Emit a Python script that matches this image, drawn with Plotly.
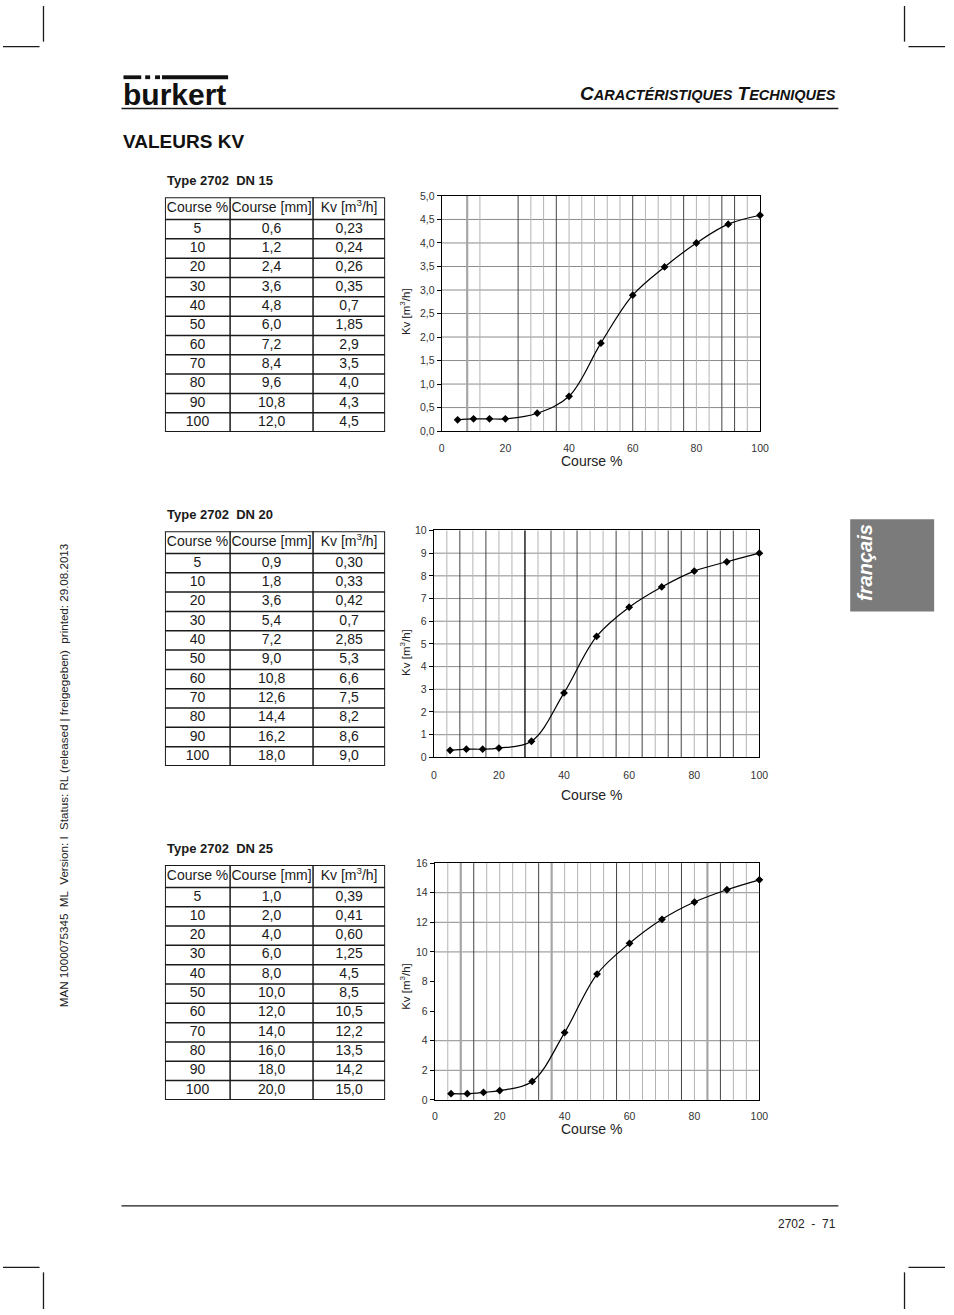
import plotly.graph_objects as go

W, H = 954, 1315
FONT = "Liberation Sans, Arial, Helvetica, sans-serif"

# ---------------- data ----------------
course_pct = [5, 10, 20, 30, 40, 50, 60, 70, 80, 90, 100]

dn15_mm = ["0,6", "1,2", "2,4", "3,6", "4,8", "6,0", "7,2", "8,4", "9,6", "10,8", "12,0"]
dn15_kv = ["0,23", "0,24", "0,26", "0,35", "0,7", "1,85", "2,9", "3,5", "4,0", "4,3", "4,5"]

dn20_mm = ["0,9", "1,8", "3,6", "5,4", "7,2", "9,0", "10,8", "12,6", "14,4", "16,2", "18,0"]
dn20_kv = ["0,30", "0,33", "0,42", "0,7", "2,85", "5,3", "6,6", "7,5", "8,2", "8,6", "9,0"]

dn25_mm = ["1,0", "2,0", "4,0", "6,0", "8,0", "10,0", "12,0", "14,0", "16,0", "18,0", "20,0"]
dn25_kv = ["0,39", "0,41", "0,60", "1,25", "4,5", "8,5", "10,5", "12,2", "13,5", "14,2", "15,0"]

table_header = ["Course\u00a0%", "Course\u00a0[mm]", "Kv\u00a0[m<sup>3</sup>/h]"]

curve_x = [5, 10, 15, 20, 30, 40, 50, 60, 70, 80, 90, 100]
dn15_curve = [0.24, 0.26, 0.26, 0.26, 0.38, 0.74, 1.87, 2.89, 3.49, 4.0, 4.4, 4.59]
dn20_curve = [0.31, 0.36, 0.36, 0.41, 0.71, 2.84, 5.33, 6.62, 7.51, 8.21, 8.62, 9.0]
dn25_curve = [0.42, 0.42, 0.51, 0.63, 1.25, 4.55, 8.5, 10.58, 12.2, 13.37, 14.2, 14.87]

titles = ["Type 2702  DN 15", "Type 2702  DN 20", "Type 2702  DN 25"]

# ---------------- layout helpers ----------------
def px(x):
    return x / W

def py(y):
    return 1 - y / H

fig = go.Figure()
shapes = []
annotations = []

# chart styling (scan-like gridlines)
charts = [
    dict(curve=dn15_curve, ymax=5, dtick=0.5, fmt=".1f",
         box=(444.3, 766.7, 191.7, 429.0), standoff=7,
         hl=[0.5, 1, 1.5, 2, 2.5, 3, 3.5, 4, 4.5],
         vlight=[12, 28, 32, 40, 44, 48, 52, 56, 64, 68, 72, 80, 84, 96],
         vdark=[24, 36, 60, 76, 88, 92], vgray=[8], vblack=[],
         ytitle_y=308, xtitle_y=459),
    dict(curve=dn20_curve, ymax=10, dtick=1, fmt="d",
         box=(436.3, 766.0, 529.3, 758.3), standoff=8,
         hl=[1, 2, 3, 4, 5, 6, 7, 8, 9],
         vlight=[4, 12, 20, 24, 32, 40, 48, 52, 60, 68, 80, 96],
         vdark=[8, 16, 36, 44, 56, 64, 72, 76, 84, 88, 92], vgray=[], vblack=[28],
         ytitle_y=652, xtitle_y=796),
    dict(curve=dn25_curve, ymax=16, dtick=2, fmt="d",
         box=(437.3, 766.0, 865.0, 1104.0), standoff=6,
         hl=[2, 4, 10, 12, 14],
         vlight=[4, 16, 20, 24, 28, 40, 44, 48, 52, 60, 64, 68, 72, 80, 92, 96],
         vdark=[12, 32, 56, 76, 88], vgray=[8, 36, 84], vblack=[],
         ytitle_y=989, xtitle_y=1133),
]

table_tops = [193, 530, 867]
table_data = [(dn15_mm, dn15_kv), (dn20_mm, dn20_kv), (dn25_mm, dn25_kv)]

layout_axes = {}
for i, c in enumerate(charts):
    n = "" if i == 0 else str(i + 1)
    xa, ya = "x" + n, "y" + n
    x0, x1, y0, y1 = c["box"]
    fig.add_trace(go.Scatter(
        x=curve_x, y=c["curve"], xaxis=xa, yaxis=ya, mode="lines+markers",
        line=dict(shape="spline", color="black", width=1.2),
        marker=dict(symbol="diamond", size=6, color="black"),
        showlegend=False, cliponaxis=False))
    layout_axes["xaxis" + n] = dict(
        domain=[px(x0), px(x1)], range=[0, 100], anchor=ya, tick0=0, dtick=20,
        showgrid=False, zeroline=False, showline=True, mirror=True,
        linecolor="black", linewidth=1, ticks="", ticklabelstandoff=c["standoff"],
        tickfont=dict(family=FONT, size=10.5, color="#333"), fixedrange=True)
    layout_axes["yaxis" + n] = dict(
        domain=[py(y1), py(y0)], range=[0, c["ymax"]], anchor=xa, tick0=0,
        dtick=c["dtick"], tickformat=c["fmt"],
        showgrid=False, zeroline=False, showline=True, mirror=True,
        linecolor="black", linewidth=1, ticks="outside", ticklen=4,
        tickcolor="black", tickfont=dict(family=FONT, size=10.5, color="#333"),
        fixedrange=True)
    # gridlines
    for v in c["hl"]:
        shapes.append(dict(type="line", xref=xa + " domain", yref=ya, x0=0, x1=1,
                           y0=v, y1=v, line=dict(color="#8c8c8c", width=1), layer="below"))
    for key, col, wd in [("vlight", "#b4b4b4", 1), ("vgray", "#a6a6a6", 2.2),
                         ("vdark", "#444444", 1), ("vblack", "#000000", 1.3)]:
        for v in c[key]:
            shapes.append(dict(type="line", xref=xa, yref=ya + " domain", x0=v, x1=v,
                               y0=0, y1=1, line=dict(color=col, width=wd), layer="below"))
    # axis titles
    annotations.append(dict(text="Kv [m<sup>3</sup>/h]", x=px(407), y=py(c["ytitle_y"]),
                            xref="paper", yref="paper", showarrow=False, textangle=-90,
                            font=dict(family=FONT, size=11.5, color="#222"),
                            xanchor="center", yanchor="middle"))
    annotations.append(dict(text="Course %", x=px(596), y=py(c["xtitle_y"]),
                            xref="paper", yref="paper", showarrow=False,
                            font=dict(family=FONT, size=14, color="#222"),
                            xanchor="center", yanchor="middle"))

# ---------------- tables ----------------
col_bounds = [0, 66, 150, 223]
header_h = 22.5
row_h = 19.5
n_rows = len(course_pct)
table_h = header_h + row_h * n_rows

for k in range(3):
    n = str(4 + k)
    xa, ya = "x" + n, "y" + n
    top = table_tops[k]
    mm, kv = table_data[k]
    layout_axes["xaxis" + n] = dict(domain=[px(164), px(164 + 223)], range=[0, 223],
                                    anchor=ya, visible=False, fixedrange=True)
    layout_axes["yaxis" + n] = dict(domain=[py(top + table_h), py(top)],
                                    range=[table_h, 0], anchor=xa, visible=False,
                                    fixedrange=True)
    centers = [(col_bounds[j] + col_bounds[j + 1]) / 2 for j in range(3)]
    xs, ys, ts = [], [], []
    for j in range(3):
        xs.append(centers[j]); ys.append(header_h / 2); ts.append(table_header[j])
    cols = [[str(v) for v in course_pct], mm, kv]
    for r in range(n_rows):
        for j in range(3):
            xs.append(centers[j])
            ys.append(header_h + row_h * (r + 0.5))
            ts.append(cols[j][r])
    fig.add_trace(go.Scatter(x=xs, y=ys, text=ts, mode="text", xaxis=xa, yaxis=ya,
                             textposition="middle center", showlegend=False,
                             cliponaxis=False, hoverinfo="skip",
                             textfont=dict(family=FONT, size=14, color="#1a1a1a")))
    # row lines
    yb = [header_h + row_h * r for r in range(n_rows)]
    for yv in yb:
        shapes.append(dict(type="line", xref=xa, yref=ya, x0=0, x1=223, y0=yv, y1=yv,
                           line=dict(color="#1a1a1a", width=1.5)))
    for xv in col_bounds[1:-1]:
        shapes.append(dict(type="line", xref=xa, yref=ya, x0=xv, x1=xv, y0=0, y1=table_h,
                           line=dict(color="#1a1a1a", width=1.5)))
    shapes.append(dict(type="rect", xref=xa, yref=ya, x0=0, x1=223, y0=0, y1=table_h,
                       line=dict(color="#1a1a1a", width=2)))
    annotations.append(dict(text="<b>" + titles[k].replace(" ", "\u00a0") + "</b>",
                            x=px(164), y=py(top - 17), xref="paper", yref="paper",
                            showarrow=False, xanchor="left", yanchor="middle",
                            font=dict(family=FONT, size=13, color="#1a1a1a")))

# ---------------- page decoration ----------------
def pline(x0, y0, x1, y1, w=1.3, color="#1a1a1a"):
    shapes.append(dict(type="line", xref="paper", yref="paper", x0=px(x0), x1=px(x1),
                       y0=py(y0), y1=py(y1), line=dict(color=color, width=w)))

def prect(x0, y0, x1, y1, color):
    shapes.append(dict(type="rect", xref="paper", yref="paper", x0=px(x0), x1=px(x1),
                       y0=py(y1), y1=py(y0), fillcolor=color, line=dict(width=0)))

# crop marks
pline(41, 0, 41, 36); pline(0, 41, 37, 41)
pline(913, 0, 913, 36); pline(917, 41, 954, 41)
pline(0, 1273, 37, 1273); pline(41, 1278, 41, 1315)
pline(917, 1273, 954, 1273); pline(913, 1278, 913, 1315)

# logo bars
for a, b in [(122, 140), (144, 149), (154, 159), (161, 228)]:
    prect(a, 70, b, 73.8, "#111111")
annotations.append(dict(text="<b>burkert</b>", x=px(120), y=py(89), xref="paper",
                        yref="paper", showarrow=False, xanchor="left", yanchor="middle",
                        font=dict(family=FONT, size=30, color="#111")))

# header
pline(120, 103.5, 846, 103.5, w=1.5)
annotations.append(dict(
    text="<b><i>C<span style='font-size:14.5px'>ARACTÉRISTIQUES</span> "
         "T<span style='font-size:14.5px'>ECHNIQUES</span></i></b>",
    x=px(846), y=py(88.5), xref="paper", yref="paper", showarrow=False,
    xanchor="right", yanchor="middle", font=dict(family=FONT, size=19, color="#111")))
annotations.append(dict(text="<b>VALEURS KV</b>", x=px(120), y=py(137), xref="paper",
                        yref="paper", showarrow=False, xanchor="left", yanchor="middle",
                        font=dict(family=FONT, size=19, color="#111")))

# side tab
prect(858, 518, 943, 611, "#7b7b7b")
annotations.append(dict(text="<b><i>français</i></b>", x=px(873), y=py(562),
                        xref="paper", yref="paper", showarrow=False, textangle=-90,
                        xanchor="center", yanchor="middle",
                        font=dict(family=FONT, size=20, color="white")))

# left vertical info text
annotations.append(dict(
    text="MAN 1000075345\u00a0\u00a0ML\u00a0\u00a0Version: I\u00a0\u00a0Status: RL "
         "(released | freigegeben)\u00a0\u00a0printed: 29.08.2013",
    x=px(62), y=py(777), xref="paper", yref="paper", showarrow=False, textangle=-90,
    xanchor="center", yanchor="middle", font=dict(family=FONT, size=11.6, color="#222")))

# footer
pline(120, 1211, 846, 1211, w=1.2)
annotations.append(dict(text="2702 \u00a0-\u00a0 71", x=px(846), y=py(1229),
                        xref="paper", yref="paper", showarrow=False, xanchor="right",
                        yanchor="middle", font=dict(family=FONT, size=12, color="#222")))

fig.update_layout(
    width=W, height=H, autosize=False,
    margin=dict(l=0, r=0, t=0, b=0, pad=0),
    paper_bgcolor="white", plot_bgcolor="white",
    separators=",.",
    showlegend=False,
    shapes=shapes, annotations=annotations,
    **layout_axes,
)

fig.write_html("out.html", config={"displayModeBar": False})
